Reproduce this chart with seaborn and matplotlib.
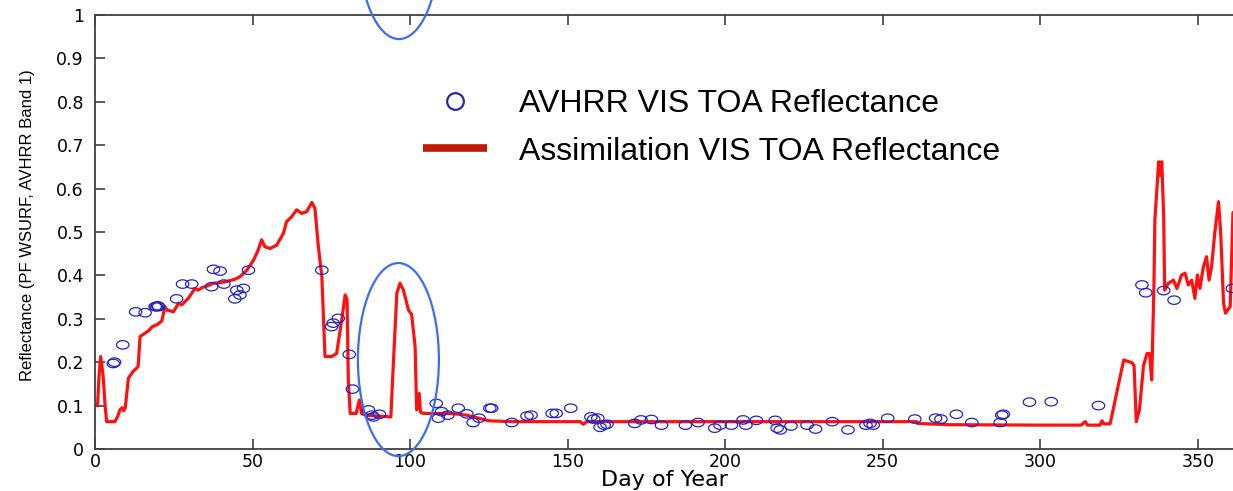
import numpy as np
import pandas as pd
import matplotlib
matplotlib.use("Agg")
import matplotlib.pyplot as plt
import seaborn as sns
from matplotlib.patches import Ellipse
from matplotlib.path import Path
from matplotlib.lines import Line2D

# ---- data ----
line_day = [0.2, 0.8, 1.3, 1.8, 2.2, 2.6, 3.2, 3.7, 6.3, 7.2, 7.9, 8.6, 9.1, 9.6, 10.6, 12.0,
            13.7, 14.3, 15.9, 16.9, 18.2, 19.6, 21.2, 22.2, 22.9, 24.0, 24.9, 26.5, 27.5, 29.6,
            30.8, 31.7, 32.7, 34.0, 35.4, 37.6, 39.5, 41.8, 44.4, 46.0, 48.2, 50.3, 51.6, 52.9,
            53.9, 55.6, 57.7, 59.8, 60.8, 62.4, 64.0, 65.6, 67.2, 68.8, 69.8, 70.9, 72.0, 73.0,
            75.1, 76.7, 78.3, 79.4, 80.0, 80.4, 81.0, 82.9, 83.9, 84.6, 85.7, 90.0, 93.9, 94.7,
            95.8, 96.8, 97.9, 99.5, 100.5, 101.6, 102.1, 102.9, 103.3, 104.2, 112.7, 118.0,
            125.0, 132.5, 154.0, 155.0, 156.0, 200.0, 260.8, 261.0, 271.0, 300.0, 313.0, 314.3,
            315.0, 319.0, 319.6, 320.2, 322.2, 326.5, 329.1, 329.8, 330.5, 331.5, 332.8, 333.9,
            334.7, 335.4, 336.1, 336.4, 337.6, 338.0, 338.6, 339.2, 339.5, 340.7, 342.3, 343.4,
            344.9, 346.0, 347.0, 348.1, 349.1, 349.9, 350.7, 351.8, 352.8, 353.6, 354.4, 355.4,
            356.6, 357.3, 358.2, 358.8, 360.3, 361.2]
line_val = [0.10, 0.10, 0.17, 0.213, 0.19, 0.167, 0.10, 0.063, 0.063, 0.075, 0.09, 0.095, 0.088,
            0.095, 0.163, 0.178, 0.19, 0.259, 0.267, 0.272, 0.282, 0.286, 0.295, 0.328, 0.32,
            0.318, 0.316, 0.336, 0.332, 0.347, 0.36, 0.37, 0.366, 0.372, 0.375, 0.382, 0.383,
            0.386, 0.391, 0.397, 0.412, 0.435, 0.455, 0.482, 0.466, 0.462, 0.47, 0.497, 0.524,
            0.535, 0.551, 0.543, 0.547, 0.568, 0.555, 0.466, 0.397, 0.213, 0.213, 0.22, 0.297,
            0.355, 0.345, 0.159, 0.082, 0.082, 0.113, 0.082, 0.078, 0.076, 0.074, 0.197, 0.359,
            0.382, 0.366, 0.32, 0.31, 0.236, 0.09, 0.128, 0.085, 0.082, 0.082, 0.078, 0.065,
            0.063, 0.063, 0.057, 0.063, 0.063, 0.063, 0.059, 0.056, 0.055, 0.055, 0.063, 0.055,
            0.055, 0.065, 0.058, 0.058, 0.205, 0.199, 0.192, 0.063, 0.09, 0.192, 0.22, 0.22,
            0.159, 0.374, 0.528, 0.662, 0.63, 0.662, 0.535, 0.366, 0.382, 0.389, 0.37, 0.401,
            0.405, 0.378, 0.389, 0.347, 0.401, 0.37, 0.42, 0.443, 0.389, 0.42, 0.497, 0.570,
            0.497, 0.336, 0.313, 0.328, 0.545]

obs_day = [5.8, 6.2, 8.8, 12.9, 15.9, 19.1, 19.5, 19.9, 20.2, 25.9, 27.8, 30.7, 37.0, 37.6,
           39.7, 40.9, 44.4, 45.0, 46.0, 47.1, 48.7, 72.0, 75.1, 75.6, 77.2, 80.7, 81.7, 86.8,
           87.9, 88.4, 90.3, 108.3, 109.0, 110.0, 112.0, 115.3, 118.0, 120.0, 121.9, 125.3,
           125.9, 132.3, 137.1, 138.4, 145.1, 146.4, 151.0, 157.4, 158.3, 159.6, 160.3, 161.6,
           162.5, 171.3, 173.3, 176.6, 179.8, 187.4, 191.4, 196.7, 198.4, 202.0, 205.7, 206.6,
           209.9, 215.9, 216.5, 217.5, 220.9, 226.0, 228.7, 234.0, 239.0, 244.7, 246.0, 247.0,
           251.6, 260.2, 266.8, 268.5, 273.4, 278.3, 287.3, 287.8, 288.3, 296.6, 303.5, 318.5,
           332.3, 333.5, 339.2, 342.5, 361.0]
obs_val = [0.197, 0.20, 0.24, 0.316, 0.314, 0.328, 0.328, 0.33, 0.328, 0.346, 0.38, 0.38, 0.374,
           0.414, 0.41, 0.38, 0.346, 0.366, 0.355, 0.37, 0.412, 0.412, 0.282, 0.29, 0.301, 0.218,
           0.138, 0.09, 0.078, 0.074, 0.08, 0.105, 0.071, 0.086, 0.078, 0.094, 0.081, 0.061,
           0.071, 0.094, 0.094, 0.061, 0.076, 0.078, 0.082, 0.082, 0.094, 0.074, 0.069, 0.071,
           0.05, 0.055, 0.057, 0.059, 0.067, 0.068, 0.055, 0.055, 0.061, 0.048, 0.055, 0.055,
           0.067, 0.055, 0.066, 0.066, 0.048, 0.044, 0.053, 0.055, 0.046, 0.063, 0.044, 0.055,
           0.059, 0.055, 0.071, 0.069, 0.071, 0.069, 0.08, 0.061, 0.061, 0.078, 0.08, 0.108,
           0.109, 0.1, 0.378, 0.36, 0.365, 0.343, 0.37]

x_ticks = [0, 50, 100, 150, 200, 250, 300, 350]
y_ticks = [0, 0.1, 0.2, 0.3, 0.4, 0.5, 0.6, 0.7, 0.8, 0.9, 1.0]
y_tick_labels = ["0", "0.1", "0.2", "0.3", "0.4", "0.5", "0.6", "0.7", "0.8", "0.9", "1"]
legend_labels = ["AVHRR VIS TOA Reflectance", "Assimilation VIS TOA Reflectance"]
# highlighted regions (center day, center value)
ellipse_cx = [96.3, 96.5]
ellipse_cy = [0.206, 1.167]

line_df = pd.DataFrame({"day": line_day, "refl": line_val})
obs_df = pd.DataFrame({"day": obs_day, "refl": obs_val})

sns.set_theme(style="white")
plt.rcParams["font.family"] = ["DejaVu Sans"]
plt.rcParams["text.color"] = "black"

fig = plt.figure(figsize=(12.33, 4.91), dpi=100)
ax = fig.add_axes([95 / 1233, 1 - 449 / 491, 1 - 95 / 1233, (449 - 15) / 491])

sns.lineplot(data=line_df, x="day", y="refl", estimator=None, sort=False,
             color="#ff1010", linewidth=2.3, ax=ax, zorder=2)

t = np.linspace(0, 2 * np.pi, 60)
ell_marker = Path(np.column_stack([np.cos(t), 0.68 * np.sin(t)]), closed=True)
sns.scatterplot(data=obs_df, x="day", y="refl", marker=ell_marker, s=80,
                facecolors="none", edgecolor="#2323c8", linewidth=0.9, ax=ax, zorder=3)

for cx, cy in zip(ellipse_cx, ellipse_cy):
    ax.add_patch(Ellipse((cx, cy), width=25.7, height=0.445, fill=False,
                         edgecolor="#3a6ef2", linewidth=1.6, clip_on=False, zorder=4))

ax.set_xlim(0, 361.2)
ax.set_ylim(0, 1)
ax.set_xticks(x_ticks)
ax.set_xticklabels([str(v) for v in x_ticks])
ax.set_yticks(y_ticks)
ax.set_yticklabels(y_tick_labels)
ax.tick_params(axis="both", direction="in", length=7, width=1.2, color="#404040",
               labelsize=12.5, labelcolor="black", top=True, bottom=True, left=True, right=False)
ax.tick_params(axis="x", pad=3)
ax.tick_params(axis="y", pad=8)
for side in ["left", "bottom", "top"]:
    ax.spines[side].set_color("#404040")
    ax.spines[side].set_linewidth(1.3)
ax.spines["right"].set_visible(False)

ax.set_xlabel("Day of Year", fontsize=16, labelpad=-1, color="black")
ax.set_ylabel("Reflectance (PF WSURF, AVHRR Band 1)", fontsize=12,
              family=["Liberation Sans", "DejaVu Sans"], color="black")
ax.yaxis.set_label_coords(-60 / 1138, 0.516)

handles = [
    Line2D([], [], linestyle="none", marker="o", markersize=12, markerfacecolor="none",
           markeredgecolor="#28289a", markeredgewidth=1.6),
    Line2D([], [], color="#c01a05", linewidth=5.5, solid_capstyle="butt"),
]
leg = fig.legend(handles, legend_labels, loc="upper left", bbox_to_anchor=(423 / 1233, 1 - 89 / 491),
                 frameon=False, prop={"family": "Liberation Sans", "size": 23},
                 handlelength=2.0, handletextpad=1.0, labelspacing=0.55, borderpad=0,
                 borderaxespad=0, labelcolor="black")

fig.savefig("out.png", dpi=100)
